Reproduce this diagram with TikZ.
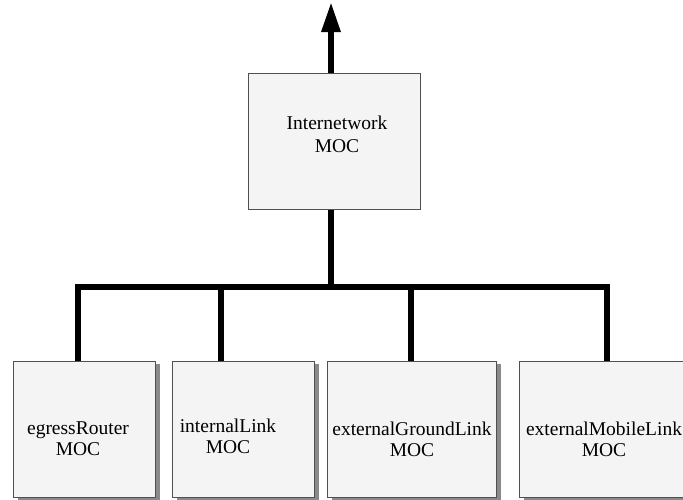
\documentclass[tikz,border=0pt]{standalone}
\usepackage{fontspec}
\setmainfont{Liberation Serif}
\usetikzlibrary{arrows.meta,shadows}
\definecolor{boxfill}{HTML}{F4F4F4}
\definecolor{boxline}{HTML}{505050}
\definecolor{shadowgray}{HTML}{8A8A8A}
\tikzset{
  mocbox/.style={draw=boxline, line width=0.9pt, fill=boxfill, rectangle, inner sep=0pt, anchor=north west},
  shadowed/.style={drop shadow={shadow xshift=5pt, shadow yshift=-3pt, fill=shadowgray, opacity=1}},
  moctext/.style={inner sep=0pt, align=center, font=\fontsize{19.5}{21}\selectfont},
  bus/.style={line width=6pt, line join=miter, line cap=butt, draw=black},
}
\begin{document}
\begin{tikzpicture}[x=1pt,y=-1pt]
\useasboundingbox (0,0) rectangle (683,499);
\begin{scope}
\clip (0,0) rectangle (683,499);
% top box
\node[mocbox, minimum width=172pt, minimum height=136pt] (top) at (248,73) {};
\node[moctext, font=\fontsize{19.5}{23}\selectfont] (toptext) at (337,134) {Internetwork\\MOC};
% bottom boxes
\node[mocbox, shadowed, minimum width=142pt, minimum height=136pt] (b1) at (13,361) {};
\node[mocbox, shadowed, minimum width=142pt, minimum height=136pt] (b2) at (172,361) {};
\node[mocbox, shadowed, minimum width=169pt, minimum height=136pt] (b3) at (327,361) {};
\node[mocbox, shadowed, minimum width=169pt, minimum height=136pt] (b4) at (519,361) {};
\node[moctext] (t1) at (78,439) {egressRouter\\MOC};
\node[moctext] (t2) at (228,436) {internalLink\\MOC};
\node[moctext] (t3) at (412,439) {externalGroundLink\\MOC};
\node[moctext] (t4) at (604,439) {externalMobileLink\\MOC};
% bus
\coordinate (jt) at (331,287);
\coordinate (j1) at (78,287);
\coordinate (j2) at (221,287);
\coordinate (j3) at (411,287);
\coordinate (j4) at (607,287);
\coordinate (up) at (331,2);
\draw[bus] (jt |- top.south) -- (jt);
\draw[bus] (j1 |- b1.north) -- (j1) -- (j4) -- (j4 |- b4.north);
\draw[bus] (j2 |- b2.north) -- (j2);
\draw[bus] (j3 |- b3.north) -- (j3);
\draw[bus, -{Triangle[length=30pt 0 0, width=18pt 0 0]}] (jt |- top.north) -- (up);
\end{scope}
\end{tikzpicture}
\end{document}
